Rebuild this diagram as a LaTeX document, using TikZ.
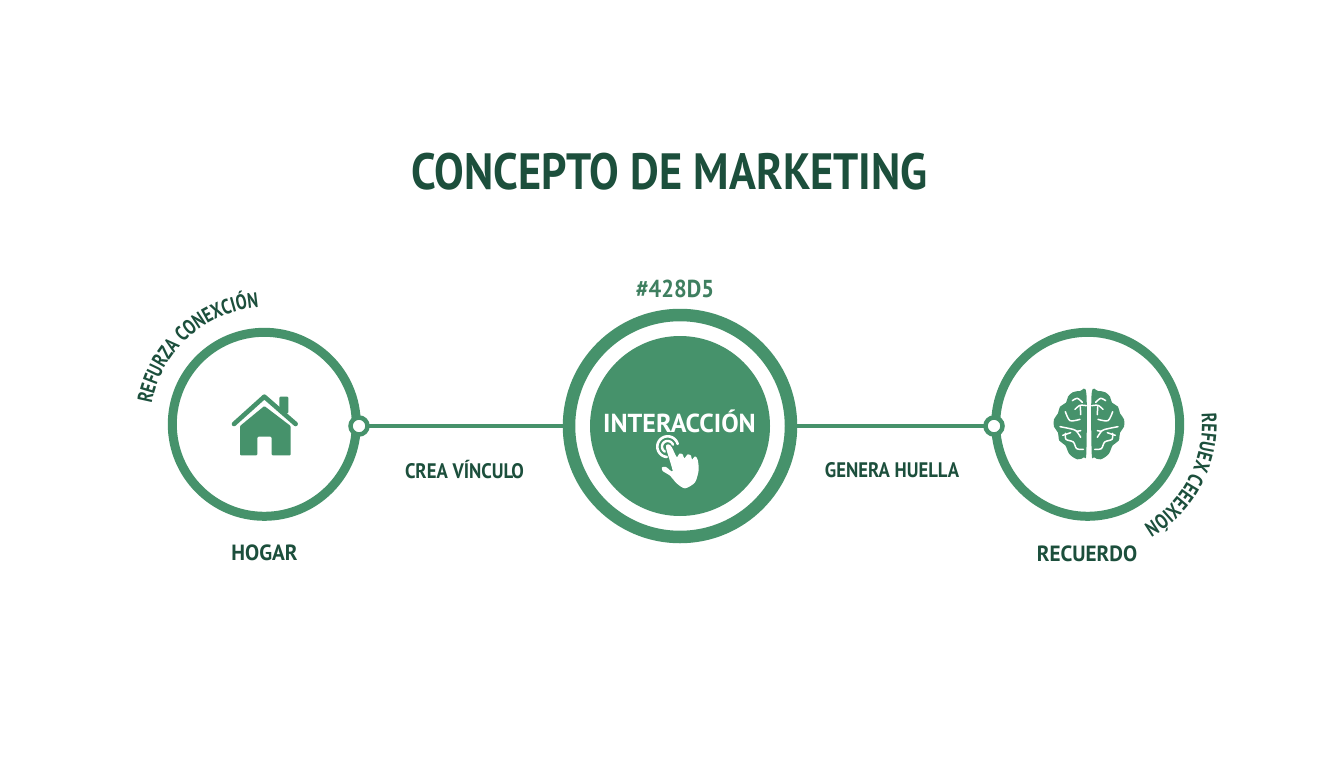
\documentclass[tikz,border=0pt]{standalone}
\usepackage{fontspec}
\setmainfont{PT Sans}
\newfontfamily\nar[FakeStretch=0.87]{PT Sans}
\newfontfamily\tight[FakeStretch=0.78]{PT Sans}
\newfontfamily\fa[FakeStretch=0.89]{PT Sans}
\newfontfamily\fb[FakeStretch=0.96]{PT Sans}
\newfontfamily\fc[FakeStretch=0.915]{PT Sans}
\usetikzlibrary{calc,decorations.text}
\definecolor{gr}{HTML}{46926B}
\definecolor{dk}{HTML}{1C4F3C}
\definecolor{md}{HTML}{3F7F60}
\tikzset{
  ring/.style={circle,draw=gr,line width=9pt,minimum size=184pt,inner sep=0pt,outer sep=0pt},
  hubring/.style={circle,draw=gr,line width=12.5pt,minimum size=222pt,inner sep=0pt,outer sep=0pt},
  disc/.style={circle,fill=gr,minimum size=180pt,inner sep=0pt,outer sep=0pt},
  dot/.style={circle,draw=gr,fill=white,line width=4.5pt,minimum size=17pt,inner sep=0pt,outer sep=0pt},
  link/.style={draw=gr,line width=4pt},
  titletext/.style={text=dk,font=\nar\bfseries\fontsize{51}{51}\selectfont,inner sep=0pt},
  lab/.style={text=dk,font=\fa\bfseries\fontsize{21}{21}\selectfont,inner sep=0pt},
  nametext/.style={text=dk,font=\fb\bfseries\fontsize{22}{22}\selectfont,inner sep=0pt},
  curved/.style={decorate,decoration={text along path,text align={fit to path},text={#1}}},
  wline/.style={draw=white,line width=1.5pt,line cap=round,line join=round}
}
\begin{document}
\begin{tikzpicture}[x=1pt,y=1pt]
\useasboundingbox[fill=white] (0,0) rectangle (1344,-768);
\node[titletext] (t) at (669.5,-172) {CONCEPTO DE MARKETING};
\node[ring] (hogar) at (264.3,-424.3) {};
\node[ring] (recuerdo) at (1087.7,-424.3) {};
\node[hubring] (hub) at (680,-426) {};
\node[disc] (core) at (680,-426) {};
\node[dot] (dl) at (359,-426) {};
\node[dot] (dr) at (994,-426) {};
\draw[link] (dl) -- (hub);
\draw[link] (hub) -- (dr);
\node[text=md,font=\fc\bfseries\fontsize{24.5}{24.5}\selectfont,inner sep=0pt] (hex) at (675,-288.5) {\#428D5};
\node[text=white,font=\bfseries\fontsize{26}{26}\selectfont,inner sep=0pt] (int) at (679.5,-421.5) {INTERACCIÓN};
\node[lab] (v) at (464.5,-470) {CREA VÍNCULO};
\node[lab] (g) at (892,-470) {GENERA HUELLA};
\node[nametext] (h) at (264.5,-553) {HOGAR};
\node[nametext] (r) at (1087,-554) {RECUERDO};
% curved texts
\coordinate (cl) at (267,-424);
\path[curved={|\color{dk}\tight\bfseries\fontsize{21}{21}\selectfont|REFURZA CONEXCIÓN}]
  ([shift={(170:117)}]cl) arc[start angle=170,end angle=95,radius=117];
\coordinate (cr) at (1085,-424);
\path[curved={|\color{dk}\tight\bfseries\fontsize{21}{21}\selectfont|REFUEX CEEEXIÓN}]
  ([shift={(5:117)}]cr) arc[start angle=5,end angle=-60,radius=117];
% house
\begin{scope}[shift={(120,-280)},x=1/3pt,y=-1/3pt]
\fill[gr,rounded corners=1pt] (478,350) rectangle (505,400);
\draw[gr,line width=4.6pt,line cap=round,line join=round] (342,432) -- (433,350) -- (527,432);
\draw[white,line width=1.6pt] (355,440) -- (433,368) -- (515,440);
\fill[gr,rounded corners=1pt] (360,438) -- (433,378) -- (512,438) -- (512,526) -- (455,526) -- (455,470) -- (412,470) -- (412,526) -- (360,526) -- cycle;
\end{scope}
% hand
\begin{scope}[shift={(640,-425)},x=1/3pt,y=-1/3pt]
\draw[white,line width=2.6pt,line cap=round] plot[domain=95:345,samples=40,smooth] ({83+31*cos(\x)},{65+31*sin(\x)});
\draw[white,line width=2.4pt,line cap=round] plot[domain=120:340,samples=30,smooth] ({83+17*cos(\x)},{65+17*sin(\x)});
\fill[white] plot[smooth cycle,tension=0.45] coordinates {(78,68) (85,58) (95,66) (110,96) (118,86) (128,88) (133,100) (143,88) (153,92) (156,104) (165,94) (173,104) (176,135) (165,172) (135,190) (110,175) (90,152) (68,138) (66,127) (78,126) (98,138)};
\end{scope}
% brain
\begin{scope}[shift={(1040,-380)},x=1/3pt,y=-1/3pt]
\foreach \sx/\ox in {1/0,-1/294}{
\begin{scope}[shift={(\ox,0)},xscale=\sx]
\fill[gr] plot[smooth cycle,tension=0.55] coordinates {(139,40) (120,33) (98,37) (84,50) (78,68) (60,80) (54,100) (42,118) (42,140) (54,158) (58,182) (76,196) (88,222) (112,238) (132,232) (139,218)};
\fill[gr] (128,36) rectangle (139,225);
\draw[wline] plot[smooth] coordinates {(97,62) (112,55) (127,67)};
\draw[wline] plot[smooth] coordinates {(105,88) (120,76) (139,77)};
\draw[wline] (121,80) -- (122,104);
\draw[wline] plot[smooth] coordinates {(76,95) (90,122) (120,118)};
\draw[wline] plot[smooth] coordinates {(60,140) (90,146) (108,152) (122,172)};
\draw[wline] (110,154) -- (122,152);
\draw[wline] plot[smooth] coordinates {(68,166) (92,158)};
\draw[wline] plot[smooth] coordinates {(76,160) (78,178) (100,186) (110,206) (130,208)};
\end{scope}}
\end{scope}
\end{tikzpicture}
\end{document}
